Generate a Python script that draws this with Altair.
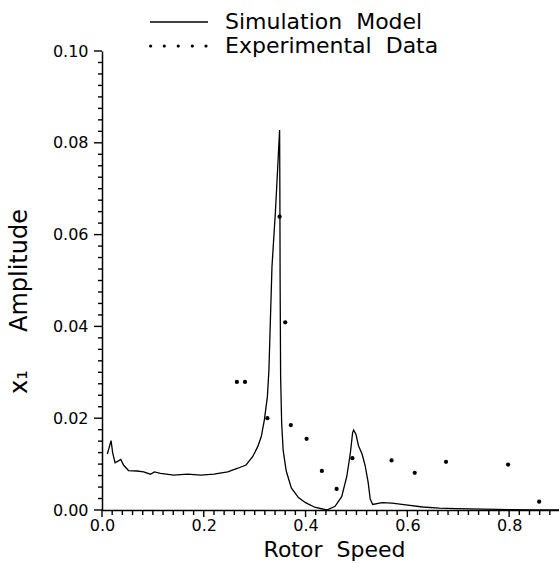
import altair as alt
import pandas as pd

# ---- data ----
sim_speed = [0.0105, 0.0178, 0.0211, 0.0257, 0.0323, 0.037, 0.0422, 0.052, 0.0687, 0.0818,
             0.095, 0.103, 0.115, 0.141, 0.168, 0.194, 0.220, 0.247, 0.267, 0.283,
             0.296, 0.306, 0.313, 0.319, 0.325, 0.328, 0.334, 0.3406, 0.344, 0.349,
             0.3495, 0.350, 0.351, 0.353, 0.356, 0.362, 0.372, 0.386, 0.400, 0.418,
             0.4416, 0.458, 0.471, 0.481, 0.488, 0.4924, 0.4944, 0.499, 0.504, 0.511,
             0.517, 0.523, 0.527, 0.532, 0.5505, 0.570, 0.597, 0.630, 0.663, 0.696,
             0.750, 0.800, 0.850, 0.898]
sim_amp = [0.0122, 0.0151, 0.0124, 0.0103, 0.0107, 0.0110, 0.0098, 0.0086, 0.0085, 0.0083,
           0.0078, 0.0083, 0.0080, 0.0076, 0.0078, 0.0076, 0.0078, 0.0083, 0.0091, 0.0098,
           0.0116, 0.0138, 0.0160, 0.0196, 0.0247, 0.0305, 0.0530, 0.0647, 0.0719, 0.0828,
           0.0700, 0.0500, 0.0290, 0.0190, 0.0130, 0.0085, 0.0048, 0.0027, 0.0016, 0.0006,
           0.0000, 0.0008, 0.0029, 0.0073, 0.0124, 0.0168, 0.0174, 0.0165, 0.0140, 0.0122,
           0.0097, 0.0060, 0.0024, 0.0012, 0.0016, 0.0015, 0.0011, 0.00065, 0.0004, 0.0003,
           0.0002, 0.0001, 0.0000, 0.0000]

exp_speed = [0.265, 0.281, 0.325, 0.349, 0.360, 0.371, 0.402, 0.432, 0.461, 0.492,
             0.569, 0.6145, 0.676, 0.798, 0.859]
exp_amp = [0.0279, 0.0279, 0.0200, 0.0639, 0.0409, 0.0185, 0.0155, 0.0085, 0.0046, 0.0113,
           0.0108, 0.0081, 0.0105, 0.0099, 0.0018]

legend_labels = ["Simulation\u00a0\u00a0Model", "Experimental\u00a0\u00a0Data"]

x_major_ticks = [0.0, 0.2, 0.4, 0.6, 0.8]
x_all_ticks = [round(i * 0.02, 2) for i in range(45)]
y_major_ticks = [0.0, 0.02, 0.04, 0.06, 0.08, 0.10]
y_all_ticks = [round(i * 0.0025, 4) for i in range(41)]

x_title = "Rotor\u00a0\u00a0Speed"
y_title = "x\u2081\u00a0\u00a0\u00a0\u00a0\u00a0Amplitude"

# ---- tables ----
sim = pd.DataFrame({"speed": sim_speed, "amp": sim_amp, "series": legend_labels[0]})
exp = pd.DataFrame({"speed": exp_speed, "amp": exp_amp, "series": legend_labels[1]})
both = pd.concat([sim, exp], ignore_index=True)
x_major_df = pd.DataFrame({"speed": x_major_ticks})
x_minor_df = pd.DataFrame({"speed": [v for v in x_all_ticks if v not in x_major_ticks]})
y_major_df = pd.DataFrame({"amp": y_major_ticks})
y_minor_df = pd.DataFrame({"amp": [v for v in y_all_ticks if v not in y_major_ticks]})

FONT = "DejaVu Sans"
PLOT_W, PLOT_H = 457, 459

x_scale = alt.Scale(domain=[0, 0.898], nice=False, zero=False)
y_scale = alt.Scale(domain=[0, 0.10], nice=False)

x_axis = alt.Axis(
    values=x_major_ticks,
    title=x_title,
    format=".1f",
    ticks=False,
    labelFlush=False,
    labelOverlap=False,
    labelBound=False,
    labelPadding=7,
    grid=False,
    zindex=2,
    titleX=232,
    titleY=46,
    titleBaseline="alphabetic",
    titleAlign="center",
)
y_axis = alt.Axis(
    values=y_major_ticks,
    title=y_title,
    format=".2f",
    ticks=False,
    labelFlush=False,
    labelOverlap=False,
    labelBound=False,
    labelPadding=14,
    grid=False,
    zindex=2,
    titleFontSize=24,
    titleX=-76,
    titleY=250,
    titleAngle=270,
    titleBaseline="alphabetic",
    titleAlign="center",
)

X = alt.X("speed:Q", scale=x_scale, axis=x_axis)
Y = alt.Y("amp:Q", scale=y_scale, axis=y_axis)

# legend symbols (unit coords scaled by sqrt(size)/2 = 11 px)
r = 0.145
dot_centers = [-0.94, 0.30, 1.57, 2.85, 4.09]
dots_path = "".join(
    f"M{c - r:.3f},0A{r},{r} 0 1,0 {c + r:.3f},0A{r},{r} 0 1,0 {c - r:.3f},0Z" for c in dot_centers
)
line_path = "M-1,-0.065H4.27V0.065H-1Z"

line = alt.Chart(sim).mark_line(color="black", strokeWidth=1.3, clip=True).encode(x=X, y=Y)

points = alt.Chart(exp).mark_circle(color="black", size=18, opacity=1).encode(x=X, y=Y)

legend_layer = alt.Chart(both).mark_point(filled=True, opacity=0, color="black").encode(
    x=X,
    y=Y,
    shape=alt.Shape(
        "series:N",
        scale=alt.Scale(domain=legend_labels, range=[line_path, dots_path]),
        legend=alt.Legend(
            title=None,
            orient="none",
            legendX=48,
            legendY=-40,
            padding=0,
            offset=0,
            rowPadding=2,
            symbolSize=484,
            symbolFillColor="black",
            symbolStrokeWidth=0,
            symbolOpacity=1,
            labelFont=FONT,
            labelFontSize=22,
            labelColor="black",
            labelOffset=53,
            labelLimit=0,
        ),
    ),
)

# axis tick marks placed through the same scales (same axis definitions, so axes merge)
tick_style = dict(color="black", strokeWidth=1.4)
x_minor = alt.Chart(x_minor_df).mark_rule(**tick_style).encode(
    x=X, y=alt.value(PLOT_H), y2=alt.value(PLOT_H + 5)
)
x_major = alt.Chart(x_major_df).mark_rule(**tick_style).encode(
    x=X, y=alt.value(PLOT_H), y2=alt.value(PLOT_H + 7)
)
y_minor = alt.Chart(y_minor_df).mark_rule(**tick_style).encode(
    y=Y, x=alt.value(0), x2=alt.value(-4)
)
y_major = alt.Chart(y_major_df).mark_rule(**tick_style).encode(
    y=Y, x=alt.value(0), x2=alt.value(-8)
)

chart = (
    alt.layer(line, points, legend_layer, x_minor, x_major, y_minor, y_major)
    .properties(
        width=PLOT_W,
        height=PLOT_H,
        autosize="none",
        padding={"left": 102, "top": 51, "right": 0, "bottom": 53},
        background="white",
    )
    .configure_view(stroke="transparent")
    .configure_axis(
        labelFont=FONT,
        labelFontSize=16,
        labelColor="black",
        titleFont=FONT,
        titleFontSize=22,
        titleFontWeight="normal",
        titleColor="black",
        domainColor="black",
        domainWidth=1.5,
    )
)

chart.save("out.html", embed_options={"renderer": "svg", "actions": False})
